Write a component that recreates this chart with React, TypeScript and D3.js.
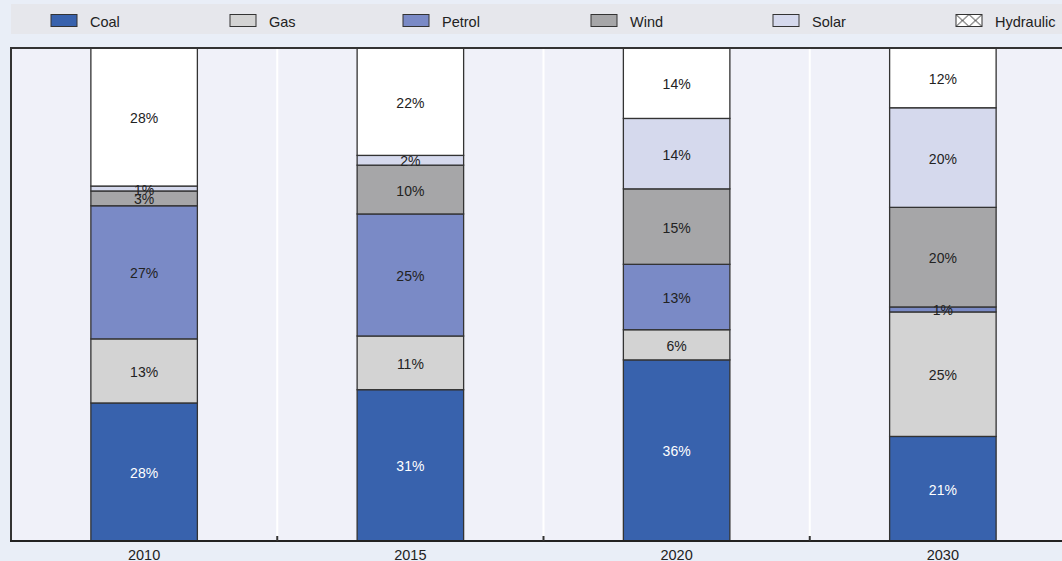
import React from "react";
import * as d3 from "d3";

const years = ["2010", "2015", "2020", "2030"];
const sources = ["Coal", "Gas", "Petrol", "Wind", "Solar", "Hydraulic"];
const coal = [28, 31, 36, 21];
const gas = [13, 11, 6, 25];
const petrol = [27, 25, 13, 1];
const wind = [3, 10, 15, 20];
const solar = [1, 2, 14, 20];
const hydraulic = [28, 22, 14, 12];

const colors = ["#3862ad", "#d3d3d3", "#7a8ac6", "#a6a6a8", "#d5d9ed", "#ffffff"];
const legendX = [51, 230, 403, 591, 773, 956];

const W = 1062;
const H = 561;
const plot = { left: 11, top: 48, bottom: 541, right: 1076 };

export default function App() {
  const rows = years.map((y, i) => ({
    year: y,
    Coal: coal[i],
    Gas: gas[i],
    Petrol: petrol[i],
    Wind: wind[i],
    Solar: solar[i],
    Hydraulic: hydraulic[i],
  }));
  const series = d3.stack<any>().keys(sources).offset(d3.stackOffsetExpand)(rows);

  const x = d3
    .scaleBand()
    .domain(years)
    .range([plot.left, plot.right])
    .paddingInner(0.6)
    .paddingOuter(0.3);
  const y = d3.scaleLinear().domain([0, 1]).range([plot.bottom, plot.top]);
  const step = x.step();
  const bounds = years.slice(1).map((yr) => (x(yr) as number) - (step * 0.6) / 2);
  const font = "'Liberation Sans', Arial, sans-serif";

  return (
    <svg
      width={W}
      height={H}
      style={{ position: "absolute", left: 0, top: 0, display: "block" }}
      fontFamily={font}
    >
      <defs>
        <pattern id="hatch" width="13" height="12" patternUnits="userSpaceOnUse" x={legendX[5]} y="14.5">
          <rect width="13" height="12" fill="#fff" />
          <path d="M0,0 L13,12 M13,0 L0,12" stroke="#333" strokeWidth="1" />
        </pattern>
        <clipPath id="plotClip">
          <rect x={plot.left} y={plot.top} width={W - plot.left} height={plot.bottom - plot.top} />
        </clipPath>
      </defs>
      <rect width={W} height={H} fill="#e9eef7" />
      {/* legend band */}
      <rect x={11} y={4} width={W - 11} height={30} fill="#e6e7ec" />
      {sources.map((s, i) => (
        <g key={s}>
          <rect
            x={legendX[i]}
            y={14.5}
            width={26}
            height={12}
            fill={s === "Hydraulic" ? "url(#hatch)" : colors[i]}
            stroke="#333"
            strokeWidth={1}
          />
          <text x={legendX[i] + 39} y={27} fontSize={14.5} fill="#222">
            {s}
          </text>
        </g>
      ))}
      {/* plot background */}
      <rect
        x={plot.left}
        y={plot.top}
        width={W - plot.left}
        height={plot.bottom - plot.top}
        fill="#f0f1f9"
      />
      {bounds.map((b, i) => (
        <line key={i} x1={b} x2={b} y1={plot.top} y2={plot.bottom} stroke="#ffffff" strokeWidth={2} />
      ))}
      <g clipPath="url(#plotClip)">
        {series.map((s, si) =>
          s.map((d, di) => (
            <rect
              key={`${si}-${di}`}
              x={x(years[di]) as number}
              y={y(d[1])}
              width={x.bandwidth()}
              height={y(d[0]) - y(d[1])}
              fill={colors[si]}
              stroke="#333"
              strokeWidth={1.3}
            />
          ))
        )}
      </g>
      {series.map((s, si) =>
        s.map((d, di) => (
          <text
            key={`t${si}-${di}`}
            x={(x(years[di]) as number) + x.bandwidth() / 2}
            y={(y(d[0]) + y(d[1])) / 2 + 6}
            textAnchor="middle"
            fontSize={14}
            fill={si === 0 ? "#ffffff" : "#222"}
          >
            {`${(d.data as any)[sources[si]]}%`}
          </text>
        ))
      )}
      {/* frame */}
      <line x1={plot.left} x2={W} y1={plot.top} y2={plot.top} stroke="#333" strokeWidth={2} />
      <line x1={plot.left} x2={plot.left} y1={plot.top - 1} y2={plot.bottom} stroke="#333" strokeWidth={2} />
      <line x1={plot.left - 1} x2={W} y1={plot.bottom} y2={plot.bottom} stroke="#222" strokeWidth={2.2} />
      {bounds.map((b, i) => (
        <line key={`tk${i}`} x1={b} x2={b} y1={plot.bottom - 5} y2={plot.bottom} stroke="#333" strokeWidth={2} />
      ))}
      {years.map((yr) => (
        <text
          key={yr}
          x={(x(yr) as number) + x.bandwidth() / 2}
          y={560}
          textAnchor="middle"
          fontSize={14.5}
          fill="#222"
        >
          {yr}
        </text>
      ))}
    </svg>
  );
}
